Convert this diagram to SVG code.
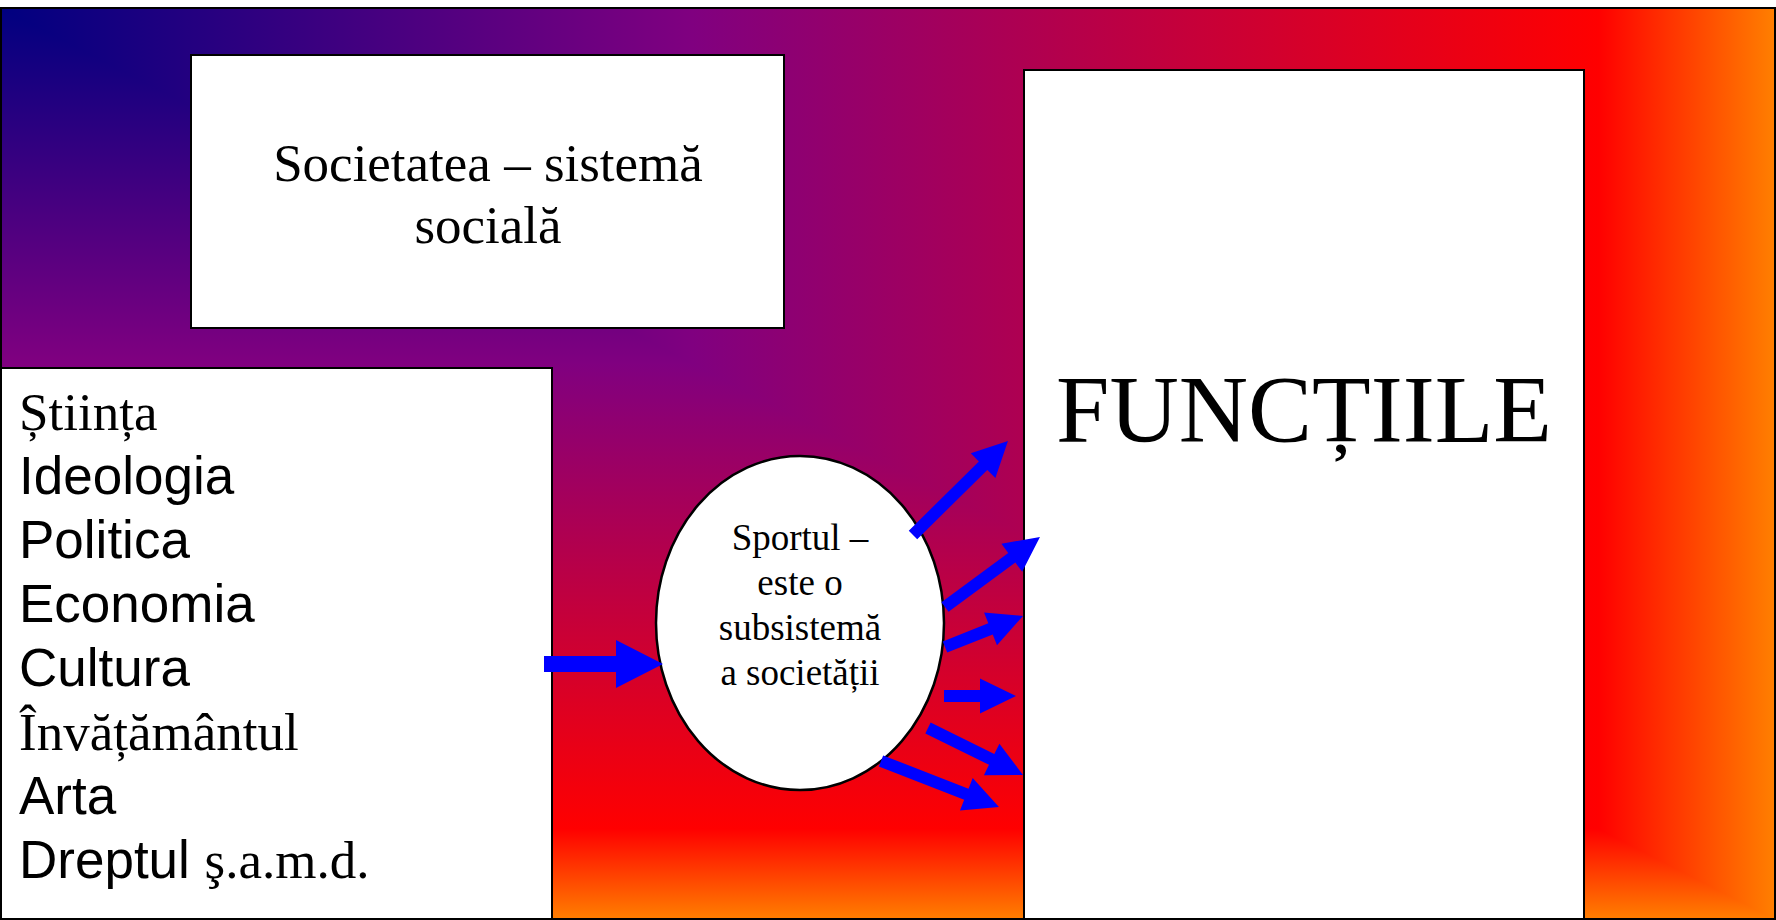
<svg xmlns="http://www.w3.org/2000/svg" width="1776" height="920" viewBox="0 0 1776 920">
<defs>
<linearGradient id="gh" gradientUnits="userSpaceOnUse" x1="0" y1="0" x2="1776" y2="0">
<stop offset="0" stop-color="#000080"/>
<stop offset="0.39" stop-color="#800080"/>
<stop offset="0.9" stop-color="#FF0000"/>
<stop offset="1" stop-color="#FF8000"/>
</linearGradient>
<linearGradient id="gv" gradientUnits="userSpaceOnUse" x1="0" y1="8" x2="0" y2="920">
<stop offset="0" stop-color="#000080"/>
<stop offset="0.39" stop-color="#800080"/>
<stop offset="0.9" stop-color="#FF0000"/>
<stop offset="1" stop-color="#FF8000"/>
</linearGradient>
</defs>
<style>
.box{fill:#fff;stroke:#000;stroke-width:2}
.serif{font-family:"Liberation Serif","Times New Roman",serif;fill:#000}
.sans{font-family:"Liberation Sans",Arial,sans-serif;fill:#000}
.arrow{fill:#0000FF;stroke:none}
</style>
<rect x="0" y="0" width="1776" height="920" fill="#fff"/>
<g id="background">
<rect x="0" y="8" width="1776" height="912" fill="url(#gh)"/>
<polygon points="0,8 0,920 1776,920" fill="url(#gv)"/>
<rect x="1" y="8" width="1774" height="911" fill="none" stroke="#000" stroke-width="2"/>
</g>
<g id="societatea">
<rect class="box" x="191" y="55" width="593" height="273"/>
<text class="serif" font-size="53" text-anchor="middle" x="488" y="181">Societatea – sistemă</text>
<text class="serif" font-size="53" text-anchor="middle" x="488" y="243">socială</text>
</g>
<g id="domenii">
<rect class="box" x="1" y="368" width="551" height="551"/>
<text class="serif" font-size="53" x="19" y="430">Știința</text>
<text class="sans" font-size="53" x="19" y="494">Ideologia</text>
<text class="sans" font-size="53" x="19" y="558">Politica</text>
<text class="sans" font-size="53" x="19" y="622">Economia</text>
<text class="sans" font-size="53" x="19" y="686">Cultura</text>
<text class="serif" font-size="53" x="19" y="750">Învățământul</text>
<text class="sans" font-size="53" x="19" y="814">Arta</text>
<text class="sans" font-size="53" x="19" y="878">Dreptul <tspan class="serif">ş.a.m.d.</tspan></text>
</g>
<g id="functiile">
<rect class="box" x="1024" y="70" width="560" height="849"/>
<text class="serif" font-size="96" text-anchor="middle" x="1304" y="442">FUNCȚIILE</text>
</g>
<g id="sportul">
<ellipse cx="800" cy="623" rx="144" ry="167" fill="#fff" stroke="#000" stroke-width="2.5"/>
<text class="serif" font-size="37" text-anchor="middle" x="800" y="550">Sportul –</text>
<text class="serif" font-size="37" text-anchor="middle" x="800" y="595">este o</text>
<text class="serif" font-size="37" text-anchor="middle" x="800" y="640">subsistemă</text>
<text class="serif" font-size="37" text-anchor="middle" x="800" y="685">a societății</text>
</g>
<g id="connectors">
<polygon class="arrow" transform="translate(544,664)" points="0,-8 72,-8 72,-24 119,0 72,24 72,8 0,8"/>
<polygon class="arrow" transform="translate(913,535) rotate(-44.7)" points="0,-6 98.6,-6 98.6,-17.5 133.6,0 98.6,17.5 98.6,6 0,6"/>
<polygon class="arrow" transform="translate(945,607) rotate(-36.4)" points="0,-6 83,-6 83,-17.5 118,0 83,17.5 83,6 0,6"/>
<polygon class="arrow" transform="translate(945,647) rotate(-21.7)" points="0,-6 49,-6 49,-17.5 84,0 49,17.5 49,6 0,6"/>
<polygon class="arrow" transform="translate(944,696)" points="0,-6 36,-6 36,-17.5 72,0 36,17.5 36,6 0,6"/>
<polygon class="arrow" transform="translate(928,728) rotate(26.3)" points="0,-6 71,-6 71,-17.5 106,0 71,17.5 71,6 0,6"/>
<polygon class="arrow" transform="translate(881,761) rotate(21.3)" points="0,-6 91.6,-6 91.6,-17.5 126.6,0 91.6,17.5 91.6,6 0,6"/>
</g>
</svg>
